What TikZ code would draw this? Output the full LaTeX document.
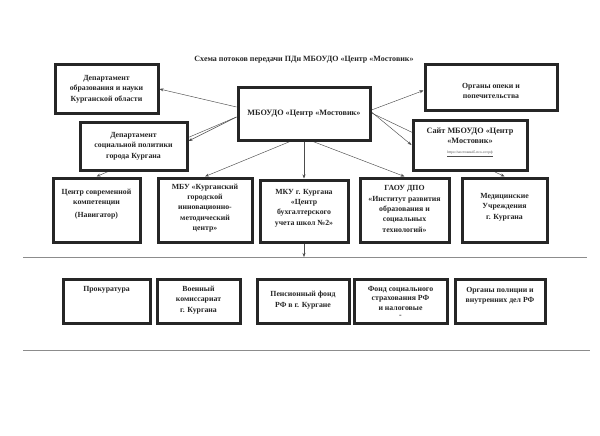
\documentclass[tikz,border=0pt]{standalone}
\usepackage{fontspec}
\setmainfont{Liberation Serif}
\usetikzlibrary{fit,arrows.meta,calc}
\pgfdeclarelayer{back}
\pgfdeclarelayer{bg}
\pgfsetlayers{back,bg,main}
\begin{document}
\begin{tikzpicture}[x=1pt,y=-1pt,
  box/.style={draw=black!85, line width=3pt, fill=white, inner sep=0pt},
  txt/.style={font=\bfseries\fontsize{7.8}{10.3}\selectfont, align=center, inner sep=0pt, text=black!85},
  arr/.style={draw=black!70, line width=0.45pt, -{Stealth[length=4pt,width=3pt]}},
  rule/.style={draw=black!45, line width=0.6pt}]
\useasboundingbox (0,0) rectangle (600,436);
\begin{pgfonlayer}{back}
\fill[white] (0,0) rectangle (600,436);
\end{pgfonlayer}

\node[font=\bfseries\fontsize{8}{10}\selectfont, text=black!85] (title) at (304,60) {Схема потоков передачи ПДн МБОУДО «Центр «Мостовик»};

% top row
\node[box, fit={(55,65) (158,113)}] (de) {};
\node[txt] (deT) at (de.center) {Департамент\\образования и науки\\Курганской области};
\node[box, fit={(80,122) (187,170)}] (ds) {};
\node[txt] (dsT) at (ds.center) {Департамент\\социальной политики\\города Кургана};
\node[box, fit={(238,88) (370,140)}] (mb) {};
\node[txt, font=\bfseries\fontsize{8.2}{10}\selectfont] (mbT) at (mb.center) {МБОУДО «Центр «Мостовик»};
\node[box, fit={(425,65) (557,110)}] (op) {};
\node[txt] (opT) at (491,91) {Органы опеки и\\попечительства};
\node[box, fit={(413,120) (527,170)}] (st) {};
\node[txt, font=\bfseries\fontsize{8.2}{10.3}\selectfont] (stT) at (470,136) {Сайт МБОУДО «Центр\\«Мостовик»};
\node[inner sep=0pt, font=\fontsize{3.6}{4}\selectfont, text=black!70] (stU) at (470,154) {\underline{https://мостовик45.псо-сот.рф}};

% second row
\node[box, fit={(53,178) (140,242)}] (r1) {};
\node[txt] (r1T) at (96.5,204) {Центр современной\\компетенции\\[3pt](Навигатор)};
\node[box, fit={(158,178) (252,242)}] (r2) {};
\node[txt] (r2T) at (205,208) {МБУ «Курганский\\городской\\инновационно-\\методический\\центр»};
\node[box, fit={(260,180) (348,242)}] (r3) {};
\node[txt] (r3T) at (304,208) {МКУ г. Кургана\\«Центр\\бухгалтерского\\учета школ №2»};
\node[box, fit={(360,178) (449,242)}] (r4) {};
\node[txt] (r4T) at (404.5,209) {ГАОУ ДПО\\«Институт развития\\образования и\\социальных\\технологий»};
\node[box, fit={(462,178) (547,242)}] (r5) {};
\node[txt] (r5T) at (504.5,207) {Медицинские\\Учреждения\\г. Кургана};

% rules
\coordinate (l1a) at (23,257);
\coordinate (l1b) at (587,257);
\coordinate (l2a) at (23,350);
\coordinate (l2b) at (590,350);
\draw[rule] (l1a) -- (l1b);
\draw[rule] (l2a) -- (l2b);
\coordinate (hl) at (r3.south |- l1a);

% third row
\node[box, fit={(63,279) (150,323)}] (p1) {};
\node[txt] (p1T) at (106.5,290) {Прокуратура};
\node[box, fit={(157,279) (240,323)}] (p2) {};
\node[txt] (p2T) at (198.5,300) {Военный\\комиссариат\\г. Кургана};
\node[box, fit={(257,279) (349,323)}] (p3) {};
\node[txt] (p3T) at (303,300) {Пенсионный фонд\\РФ в г. Кургане};
\node[box, fit={(354,279) (447,323)}] (p4) {};
\node[txt, font=\bfseries\fontsize{7.8}{9.6}\selectfont] (p4T) at (400.5,302) {Фонд социального\\страхования РФ\\и налоговые\\[-2pt]-};
\node[box, fit={(455,279) (545,323)}] (p5) {};
\node[txt] (p5T) at (500,296) {Органы полиции и\\внутренних дел РФ};

% connectors
\begin{pgfonlayer}{bg}
\draw[arr] ([yshift=7pt]mb.west) -- (de.east);
\draw[arr] ([yshift=-3pt]mb.west) -- ([yshift=5pt]ds.east);
\draw[arr] ([yshift=-3pt]mb.west) -- (r1.north);
\draw[arr] ([xshift=-14pt]mb.south) -- (r2.north);
\draw[arr] (mb.south) -- (r3.north);
\draw[arr] ([xshift=9pt]mb.south) -- (r4.north);
\draw[arr] ([yshift=4pt]mb.east) -- ([yshift=-3pt]op.west);
\draw[arr] ([yshift=2pt]mb.east) -- (st.west);
\draw[arr] ([yshift=1pt]mb.east) -- (r5.north);
\draw[arr] (r3.south) -- (hl);
\end{pgfonlayer}
\end{tikzpicture}
\end{document}
